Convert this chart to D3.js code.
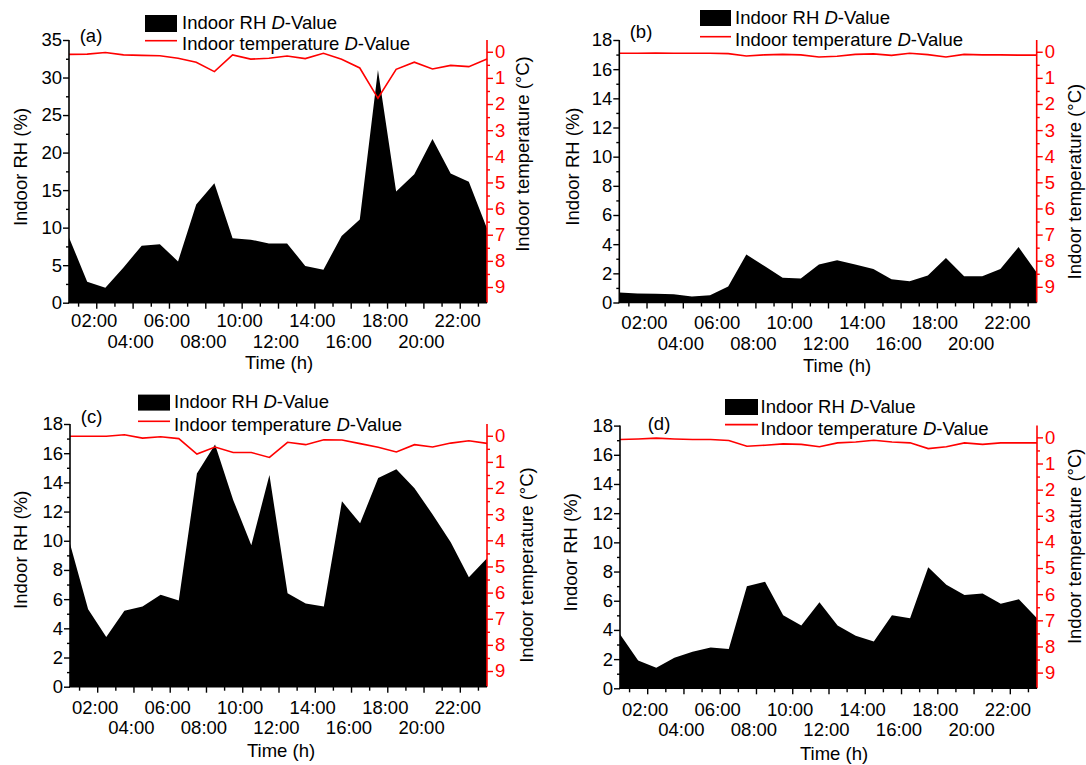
<!DOCTYPE html>
<html>
<head>
<meta charset="utf-8">
<script src="https://cdn.jsdelivr.net/npm/d3@7"></script>
<style>
  body { margin: 0; background: #fff; }
  svg { font-family: "Liberation Sans", Arial, sans-serif; }
</style>
</head>
<body>
<div id="chart"></div>
<script>
var svgWidth = 1086;
var svgHeight = 765;

// hour of each reading (half past each hour)
var hours = [0.5, 1.5, 2.5, 3.5, 4.5, 5.5, 6.5, 7.5, 8.5, 9.5, 10.5, 11.5,
             12.5, 13.5, 14.5, 15.5, 16.5, 17.5, 18.5, 19.5, 20.5, 21.5, 22.5, 23.5];

// indoor RH D-value (%)
var rhA = [8.7, 2.8, 2.0, 4.7, 7.6, 7.8, 5.5, 13.1, 15.9, 8.6, 8.4, 7.9,
           7.9, 4.9, 4.4, 8.9, 11.1, 31.0, 14.8, 17.1, 21.8, 17.2, 16.1, 9.9];
var rhB = [0.68, 0.62, 0.6, 0.57, 0.42, 0.5, 1.1, 3.3, 2.5, 1.7, 1.65, 2.6,
           2.9, 2.6, 2.3, 1.6, 1.45, 1.85, 3.05, 1.8, 1.8, 2.3, 3.8, 2.05];
var rhC = [9.8, 5.3, 3.4, 5.2, 5.5, 6.3, 5.9, 14.6, 16.6, 12.8, 9.7, 14.5,
           6.4, 5.7, 5.5, 12.7, 11.2, 14.3, 14.9, 13.6, 11.8, 9.9, 7.5, 8.8];
var rhD = [3.7, 1.9, 1.4, 2.1, 2.5, 2.8, 2.7, 7.0, 7.3, 5.0, 4.3, 5.9,
           4.3, 3.6, 3.2, 5.0, 4.8, 8.3, 7.1, 6.4, 6.5, 5.8, 6.1, 4.8];

// indoor temperature D-value (°C), axis runs downward
var tempA = [0.10, 0.09, 0.03, 0.12, 0.14, 0.15, 0.25, 0.40, 0.76, 0.12, 0.28, 0.25,
             0.16, 0.26, 0.06, 0.29, 0.62, 1.78, 0.67, 0.40, 0.66, 0.52, 0.57, 0.28];
var tempB = [0.06, 0.06, 0.05, 0.06, 0.06, 0.06, 0.07, 0.16, 0.12, 0.10, 0.12, 0.20,
             0.17, 0.10, 0.08, 0.14, 0.06, 0.11, 0.20, 0.10, 0.12, 0.12, 0.13, 0.13];
var tempC = [0.02, 0.02, 0.02, -0.04, 0.09, 0.04, 0.11, 0.70, 0.43, 0.64, 0.64, 0.83,
             0.25, 0.34, 0.15, 0.16, 0.30, 0.44, 0.62, 0.34, 0.43, 0.28, 0.19, 0.29];
var tempD = [0.08, 0.06, 0.03, 0.06, 0.08, 0.08, 0.12, 0.34, 0.30, 0.25, 0.27, 0.36,
             0.21, 0.18, 0.11, 0.18, 0.21, 0.43, 0.36, 0.21, 0.27, 0.21, 0.21, 0.21];

// axis ticks
var timeTicks = [2, 4, 6, 8, 10, 12, 14, 16, 18, 20, 22];
var timeLabels = ["02:00", "04:00", "06:00", "08:00", "10:00", "12:00",
                  "14:00", "16:00", "18:00", "20:00", "22:00"];
var timeMinor = [1, 3, 5, 7, 9, 11, 13, 15, 17, 19, 21, 23];
var rhTicks35 = [0, 5, 10, 15, 20, 25, 30, 35];
var rhMinor35 = [2.5, 7.5, 12.5, 17.5, 22.5, 27.5, 32.5];
var rhTicks18 = [0, 2, 4, 6, 8, 10, 12, 14, 16, 18];
var rhMinor18 = [1, 3, 5, 7, 9, 11, 13, 15, 17];
var tempTicks = [0, 1, 2, 3, 4, 5, 6, 7, 8, 9];
var tempMinor = [0.5, 1.5, 2.5, 3.5, 4.5, 5.5, 6.5, 7.5, 8.5];

var panelTags = ["(a)", "(b)", "(c)", "(d)"];

// where each panel sits on the page
var layout = [
    { left: 69, right: 487, top: 40, bottom: 302.7, rhMax: 35,
      legX: 145, legY: 15, legW: 32, legH: 17, legTx: 182, legT1: 21.7, legT2: 43.3, legLine: 40.7,
      tagX: 91, tagY: 35, lTitleX: 20, lTitleY: 167, rTitleX: 522, rTitleY: 154,
      row1: 320, row2: 341, xTitleX: 279, xTitleY: 362.7 },
    { left: 619.3, right: 1036.7, top: 40, bottom: 302.5, rhMax: 18,
      legX: 700, legY: 10, legW: 31, legH: 16, legTx: 735, legT1: 16.7, legT2: 39.3, legLine: 36.7,
      tagX: 641, tagY: 31.7, lTitleX: 572.7, lTitleY: 166.6, rTitleX: 1074, rTitleY: 181.6,
      row1: 322.5, row2: 343, xTitleX: 837, xTitleY: 365.4 },
    { left: 70, right: 487, top: 424, bottom: 686.7, rhMax: 18,
      legX: 138, legY: 394.6, legW: 32, legH: 16, legTx: 174, legT1: 401.3, legT2: 424, legLine: 421.3,
      tagX: 91.6, tagY: 416.3, lTitleX: 20.5, lTitleY: 549.8, rTitleX: 526, rTitleY: 565,
      row1: 707.7, row2: 727.8, xTitleX: 281, xTitleY: 750.2 },
    { left: 620, right: 1037, top: 425.6, bottom: 688.3, rhMax: 18,
      legX: 725, legY: 399, legW: 33, legH: 16, legTx: 760.5, legT1: 405.7, legT2: 427.9, legLine: 424.6,
      tagX: 659, tagY: 423, lTitleX: 570, lTitleY: 552.3, rTitleX: 1074, rTitleY: 546.3,
      row1: 709.9, row2: 729.8, xTitleX: 834, xTitleY: 753 }
];

var rhSets = [rhA, rhB, rhC, rhD];
var tempSets = [tempA, tempB, tempC, tempD];

var svg = d3.select("#chart")
    .append("svg")
    .attr("width", svgWidth)
    .attr("height", svgHeight);

var fontSize = 18.5;

function drawPanel(i) {
    var L = layout[i];
    var rh = rhSets[i];
    var temp = tempSets[i];
    var data = hours.map(function (h, k) { return { h: h, rh: rh[k], t: temp[k] }; });

    var x = d3.scaleLinear().domain([0.5, 23.5]).range([L.left, L.right]);
    var y = d3.scaleLinear().domain([0, L.rhMax]).range([L.bottom, L.top]);
    var yT = d3.scaleLinear().domain([-0.45, 9.6]).range([L.top, L.bottom]);

    var g = svg.append("g");

    // black RH area
    var area = d3.area()
        .x(function (d) { return x(d.h); })
        .y0(y(0))
        .y1(function (d) { return y(d.rh); });
    g.append("path")
        .datum(data)
        .attr("d", area)
        .attr("fill", "#000");

    // red temperature line
    var line = d3.line()
        .x(function (d) { return x(d.h); })
        .y(function (d) { return yT(d.t); });
    g.append("path")
        .datum(data)
        .attr("d", line)
        .attr("fill", "none")
        .attr("stroke", "#ff0000")
        .attr("stroke-width", 1.6);

    var rhTicks = L.rhMax === 35 ? rhTicks35 : rhTicks18;
    var rhMinor = L.rhMax === 35 ? rhMinor35 : rhMinor18;

    // left axis
    var leftG = g.append("g").attr("transform", "translate(" + L.left + ",0)");
    leftG.call(d3.axisLeft(y).tickValues(rhTicks).tickSize(6).tickSizeOuter(0).tickPadding(1));
    leftG.append("g").call(d3.axisLeft(y).tickValues(rhMinor).tickSize(3).tickFormat(""));
    leftG.selectAll(".domain").remove();
    leftG.append("line").attr("x1", 0).attr("x2", 0).attr("y1", L.top).attr("y2", L.bottom)
        .attr("stroke", "#000").attr("stroke-width", 1.6);

    // right axis (red)
    var rightG = g.append("g").attr("transform", "translate(" + L.right + ",0)");
    rightG.call(d3.axisRight(yT).tickValues(tempTicks).tickSize(6).tickSizeOuter(0).tickPadding(2));
    rightG.append("g").call(d3.axisRight(yT).tickValues(tempMinor).tickSize(3).tickFormat(""));
    rightG.selectAll(".domain").remove();
    rightG.append("line").attr("x1", 0).attr("x2", 0).attr("y1", L.top).attr("y2", L.bottom)
        .attr("stroke", "#ff0000").attr("stroke-width", 1.6);
    rightG.selectAll("line").attr("stroke", "#ff0000");
    rightG.selectAll("text").attr("fill", "#ff0000");

    // bottom axis
    var bottomG = g.append("g").attr("transform", "translate(0," + L.bottom + ")");
    bottomG.call(d3.axisBottom(x).tickValues(timeTicks).tickSize(6).tickSizeOuter(0).tickFormat(""));
    bottomG.append("g").call(d3.axisBottom(x).tickValues(timeMinor).tickSize(4).tickFormat(""));
    bottomG.selectAll(".domain").remove();
    bottomG.append("line").attr("x1", L.left - 1).attr("x2", L.right).attr("y1", 0).attr("y2", 0)
        .attr("stroke", "#000").attr("stroke-width", 1.6);

    // staggered time labels
    g.selectAll("text.timeLabel")
        .data(timeTicks)
        .enter()
        .append("text")
        .attr("class", "timeLabel")
        .attr("x", function (d) { return x(d) - 2; })
        .attr("y", function (d, k) { return k % 2 === 0 ? L.row1 : L.row2; })
        .attr("text-anchor", "middle")
        .attr("dominant-baseline", "central")
        .attr("font-size", fontSize)
        .text(function (d, k) { return timeLabels[k]; });

    g.selectAll(".tick text").attr("font-size", fontSize).attr("font-family", null);
    g.selectAll(".tick line").attr("stroke-width", 1.4);

    // axis titles
    g.append("text")
        .attr("x", L.xTitleX).attr("y", L.xTitleY)
        .attr("text-anchor", "middle").attr("dominant-baseline", "central")
        .attr("font-size", fontSize)
        .text("Time (h)");
    g.append("text")
        .attr("transform", "translate(" + L.lTitleX + "," + L.lTitleY + ") rotate(-90)")
        .attr("text-anchor", "middle").attr("dominant-baseline", "central")
        .attr("font-size", fontSize)
        .text("Indoor RH (%)");
    g.append("text")
        .attr("transform", "translate(" + L.rTitleX + "," + L.rTitleY + ") rotate(-90)")
        .attr("text-anchor", "middle").attr("dominant-baseline", "central")
        .attr("font-size", fontSize)
        .text("Indoor temperature (°C)");

    // panel tag
    g.append("text")
        .attr("x", L.tagX).attr("y", L.tagY)
        .attr("text-anchor", "middle").attr("dominant-baseline", "central")
        .attr("font-size", fontSize)
        .text(panelTags[i]);

    // legend
    g.append("rect")
        .attr("x", L.legX).attr("y", L.legY)
        .attr("width", L.legW).attr("height", L.legH)
        .attr("fill", "#000");
    g.append("line")
        .attr("x1", L.legX).attr("x2", L.legX + L.legW)
        .attr("y1", L.legLine).attr("y2", L.legLine)
        .attr("stroke", "#ff0000").attr("stroke-width", 1.6);

    var t1 = g.append("text")
        .attr("x", L.legTx).attr("y", L.legT1)
        .attr("dominant-baseline", "central")
        .attr("font-size", fontSize);
    t1.append("tspan").text("Indoor RH ");
    t1.append("tspan").attr("font-style", "italic").text("D");
    t1.append("tspan").text("-Value");

    var t2 = g.append("text")
        .attr("x", L.legTx).attr("y", L.legT2)
        .attr("dominant-baseline", "central")
        .attr("font-size", fontSize);
    t2.append("tspan").text("Indoor temperature ");
    t2.append("tspan").attr("font-style", "italic").text("D");
    t2.append("tspan").text("-Value");
}

for (var i = 0; i < 4; i++) {
    drawPanel(i);
}
</script>
</body>
</html>
